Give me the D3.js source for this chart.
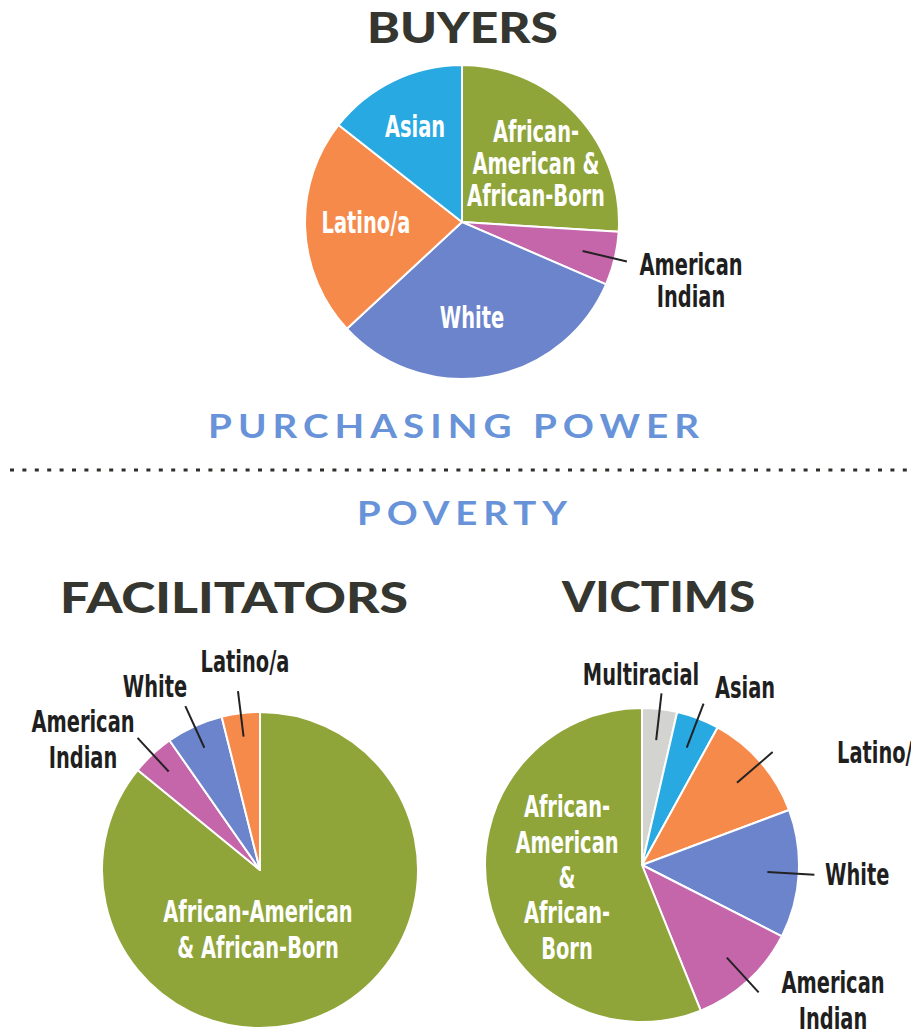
<!DOCTYPE html>
<html>
<head>
<meta charset="utf-8">
<script src="https://cdn.jsdelivr.net/npm/d3@7"></script>
<style>
  body { margin: 0; background: #fff; }
  svg { display: block; }
  .title { font-family: Lato, "Open Sans", sans-serif; font-weight: 900; fill: #34362f; }
  .sub { font-family: Lato, "Open Sans", sans-serif; font-weight: bold; letter-spacing: 5px; fill: #6893d9; }
  .lbl { font-family: "DejaVu Sans Condensed", "DejaVu Sans", sans-serif; font-stretch: condensed; font-weight: bold; font-size: 30px; }
</style>
</head>
<body>
<div id="chart"></div>
<script>
// values are shares (%), read clockwise from 12 o'clock
var buyersCats = ["African-American & African-Born", "American Indian", "White", "Latino/a", "Asian"]
var buyersVals = [26, 5.5, 31.6, 22.5, 14.4]

var facilCats = ["African-American & African-Born", "American Indian", "White", "Latino/a"]
var facilVals = [85.9, 4.4, 5.8, 3.9]

var victimCats = ["Multiracial", "Asian", "Latino/a", "White", "American Indian", "African-American & African-Born"]
var victimVals = [3.6, 4.4, 11.3, 13.2, 11.4, 56.1]

var colors = {
  "African-American & African-Born": "#8fa53a",
  "American Indian": "#c565aa",
  "White": "#6b84cc",
  "Latino/a": "#f68a4b",
  "Asian": "#29a9e1",
  "Multiracial": "#d3d3d0"
}

var W = 911, H = 1032
var squeeze = 0.72   // the fallback font is wider than the condensed original

var svg = d3.select("#chart").append("svg")
    .attr("width", W)
    .attr("height", H)

// label layout: text lines, offset from pie centre, and whether it has a leader line
var buyersLabels = {
  "African-American & African-Born": { lines: ["African-", "American &", "African-Born"], dx: 74, dy: -80, inside: true },
  "American Indian": { lines: ["American", "Indian"], dx: 229, dy: 53, inside: false },
  "White": { lines: ["White"], dx: 10, dy: 106, inside: true },
  "Latino/a": { lines: ["Latino/a"], dx: -96, dy: 11, inside: true },
  "Asian": { lines: ["Asian"], dx: -47, dy: -85, inside: true }
}
var facilLabels = {
  "African-American & African-Born": { lines: ["African-American", "& African-Born"], dx: -2, dy: 52, inside: true, lh: 36 },
  "American Indian": { lines: ["American", "Indian"], dx: -177, dy: -138, inside: false, lh: 36 },
  "White": { lines: ["White"], dx: -105, dy: -173, inside: false },
  "Latino/a": { lines: ["Latino/a"], dx: -15, dy: -198, inside: false }
}
var victimLabels = {
  "Multiracial": { lines: ["Multiracial"], dx: -1, dy: -180, inside: false },
  "Asian": { lines: ["Asian"], dx: 103, dy: -167, inside: false },
  "Latino/a": { lines: ["Latino/a"], dx: 195, dy: -102, inside: false, anchor: "start" },
  "White": { lines: ["White"], dx: 183, dy: 20, inside: false, anchor: "start" },
  "American Indian": { lines: ["American", "Indian"], dx: 191, dy: 128, inside: false, lh: 36 },
  "African-American & African-Born": { lines: ["African-", "American", "&", "African-", "Born"], dx: -75, dy: -48, inside: true, lh: 35.5 }
}

function drawPie (cx, cy, r, cats, vals, labels, lead) {
  var g = svg.append("g").attr("transform", "translate(" + cx + "," + cy + ")")
  var data = cats.map(function (c, i) { return { name: c, value: vals[i] } })

  var pie = d3.pie().sort(null).value(d => d.value)
  var arc = d3.arc().innerRadius(0).outerRadius(r)
  var arcs = pie(data)

  g.selectAll("path.slice")
    .data(arcs)
    .enter().append("path")
    .attr("class", "slice")
    .attr("d", arc)
    .attr("fill", d => colors[d.data.name])
    .attr("stroke", "#fff")
    .attr("stroke-width", 2)
    .attr("stroke-linejoin", "round")

  // leader lines go along the slice middle
  arcs.forEach(function (a) {
    var lab = labels[a.data.name]
    if (lab.inside) return
    var mid = (a.startAngle + a.endAngle) / 2
    g.append("line")
      .attr("x1", Math.sin(mid) * r * lead[0])
      .attr("y1", -Math.cos(mid) * r * lead[0])
      .attr("x2", Math.sin(mid) * r * lead[1])
      .attr("y2", -Math.cos(mid) * r * lead[1])
      .attr("stroke", "#222")
      .attr("stroke-width", 2)
  })

  arcs.forEach(function (a) {
    var lab = labels[a.data.name]
    var t = g.append("text")
      .attr("class", "lbl")
      .attr("transform", "translate(" + lab.dx + ",0) scale(" + squeeze + ",1)")
      .attr("text-anchor", lab.anchor || "middle")
      .attr("fill", lab.inside ? "#fff" : "#1f1f1f")
    lab.lines.forEach(function (ln, i) {
      t.append("tspan")
        .attr("x", 0)
        .attr("y", lab.dy + i * (lab.lh || 32))
        .text(ln)
    })
  })
}

// headings
function heading (txt, x0, x1, y, cls, size) {
  svg.append("text")
    .attr("class", cls)
    .attr("x", x0)
    .attr("y", y)
    .attr("font-size", size)
    .attr("textLength", x1 - x0)
    .attr("lengthAdjust", "spacingAndGlyphs")
    .text(txt)
}

heading("BUYERS", 367, 558, 43, "title", 42)
heading("PURCHASING POWER", 208, 705, 438, "sub", 32)
heading("POVERTY", 357, 573, 525, "sub", 32)
heading("FACILITATORS", 60, 408, 613, "title", 42)
heading("VICTIMS", 562, 755, 612, "title", 42)

// dotted divider
svg.append("line")
  .attr("x1", 10).attr("x2", W)
  .attr("y1", 470).attr("y2", 470)
  .attr("stroke", "#2e2e2a")
  .attr("stroke-width", 3)
  .attr("stroke-dasharray", "4 8.4")

drawPie(462, 222, 157, buyersCats, buyersVals, buyersLabels, [0.79, 1.08])
drawPie(260, 870, 158, facilCats, facilVals, facilLabels, [0.85, 1.14])
drawPie(642, 865, 157, victimCats, victimVals, victimLabels, [0.8, 1.1])
</script>
</body>
</html>
